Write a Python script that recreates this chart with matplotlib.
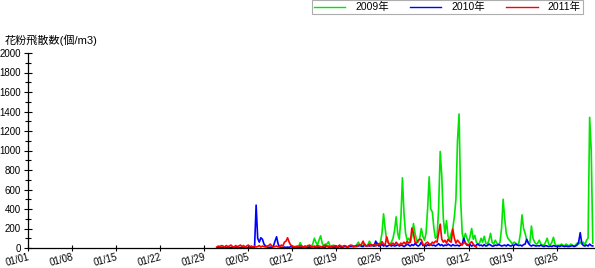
import numpy as np
import pandas as pd
import matplotlib
matplotlib.use("Agg")
import matplotlib.pyplot as plt
from matplotlib.ticker import MultipleLocator
import matplotlib.dates as mdates

plt.rcParams['font.family'] = ['Liberation Sans', 'Noto Sans CJK JP', 'DejaVu Sans']

# ---- data (pollen count, 6-hour samples, mapped onto a common year) ----
freq = "6h"

start_2009 = "2009-02-12"
pollen_2009 = [
    0, 0, 5, 10,        # 02/12
    15, 55, 20, 10,     # 02/13
    5, 10, 20, 10,      # 02/14
    15, 40, 100, 60,    # 02/15
    30, 80, 125, 50,    # 02/16
    20, 40, 40, 65,     # 02/17
    20, 10, 30, 15,     # 02/18
    5, 10, 5, 10,       # 02/19
    5, 10, 15, 5,       # 02/20
    10, 20, 10, 15,     # 02/21
    20, 35, 60, 25,     # 02/22
    15, 30, 45, 20,     # 02/23
    30, 70, 40, 25,     # 02/24
    20, 35, 50, 30,     # 02/25
    60, 150, 350, 200,  # 02/26
    80, 50, 40, 60,     # 02/27
    100, 180, 320, 150, # 02/28
    90, 300, 720, 350,  # 03/01
    150, 80, 100, 60,   # 03/02
    120, 250, 150, 80,  # 03/03
    60, 100, 200, 120,  # 03/04
    80, 150, 400, 730,  # 03/05
    400, 370, 200, 100, # 03/06
    120, 400, 990, 740, # 03/07
    300, 150, 280, 120, # 03/08
    80, 150, 200, 320,  # 03/09
    500, 1100, 1375, 500, # 03/10
    150, 80, 150, 100,  # 03/11
    60, 120, 200, 90,   # 03/12
    130, 60, 40, 50,    # 03/13
    100, 60, 120, 50,   # 03/14
    40, 80, 150, 60,    # 03/15
    40, 80, 50, 30,     # 03/16
    60, 200, 500, 300,  # 03/17
    150, 100, 80, 60,   # 03/18
    40, 60, 50, 30,     # 03/19
    50, 150, 340, 200,  # 03/20
    150, 80, 60, 50,    # 03/21
    225, 100, 60, 40,   # 03/22
    50, 80, 40, 30,     # 03/23
    30, 60, 100, 40,    # 03/24
    30, 60, 110, 40,    # 03/25
    20, 30, 25, 40,     # 03/26
    30, 20, 40, 30,     # 03/27
    20, 40, 30, 20,     # 03/28
    30, 50, 40, 60,     # 03/29
    40, 60, 30, 80,     # 03/30
    100, 1340, 1000, 50, # 03/31
]

start_2010 = "2009-01-31"
pollen_2010 = [
    0, 5, 0, 5,         # 01/31
    5, 0, 5, 0,         # 02/01
    0, 5, 5, 0,         # 02/02
    5, 0, 0, 5,         # 02/03
    0, 5, 0, 0,         # 02/04
    5, 0, 5, 10,        # 02/05
    5, 440, 100, 60,    # 02/06
    105, 90, 40, 20,    # 02/07
    10, 5, 10, 5,       # 02/08
    20, 70, 115, 40,    # 02/09
    10, 5, 5, 10,       # 02/10
    5, 10, 5, 15,       # 02/11
    10, 5, 15, 10,      # 02/12
    5, 10, 5, 10,       # 02/13
    15, 10, 5, 10,      # 02/14
    10, 15, 10, 5,      # 02/15
    10, 5, 15, 10,      # 02/16
    5, 10, 20, 10,      # 02/17
    10, 15, 5, 10,      # 02/18
    15, 10, 20, 10,     # 02/19
    10, 20, 15, 10,     # 02/20
    20, 15, 25, 15,     # 02/21
    15, 25, 20, 30,     # 02/22
    20, 15, 30, 20,     # 02/23
    25, 20, 30, 25,     # 02/24
    20, 70, 40, 20,     # 02/25
    25, 35, 20, 30,     # 02/26
    15, 25, 30, 20,     # 02/27
    30, 20, 25, 35,     # 02/28
    20, 30, 25, 15,     # 03/01
    25, 40, 30, 20,     # 03/02
    35, 25, 45, 30,     # 03/03
    20, 30, 60, 25,     # 03/04
    30, 20, 35, 25,     # 03/05
    40, 25, 30, 20,     # 03/06
    30, 45, 25, 35,     # 03/07
    20, 30, 25, 40,     # 03/08
    30, 20, 35, 25,     # 03/09
    25, 30, 20, 30,     # 03/10
    40, 100, 50, 30,    # 03/11
    25, 35, 20, 30,     # 03/12
    20, 30, 40, 25,     # 03/13
    30, 20, 35, 20,     # 03/14
    25, 40, 30, 20,     # 03/15
    20, 30, 25, 35,     # 03/16
    30, 20, 25, 30,     # 03/17
    20, 35, 25, 20,     # 03/18
    30, 25, 40, 30,     # 03/19
    25, 30, 20, 35,     # 03/20
    40, 90, 50, 30,     # 03/21
    20, 30, 25, 20,     # 03/22
    25, 20, 30, 20,     # 03/23
    15, 25, 20, 15,     # 03/24
    20, 15, 25, 20,     # 03/25
    15, 20, 15, 25,     # 03/26
    20, 15, 20, 15,     # 03/27
    15, 20, 25, 15,     # 03/28
    20, 30, 60, 157,    # 03/29
    50, 25, 20, 30,     # 03/30
    20, 40, 25, 20,     # 03/31
]

start_2011 = "2009-01-31"
pollen_2011 = [
    10, 20, 15, 25,     # 01/31
    20, 10, 25, 15,     # 02/01
    20, 30, 15, 10,     # 02/02
    25, 15, 20, 30,     # 02/03
    15, 25, 10, 20,     # 02/04
    30, 15, 20, 10,     # 02/05
    20, 10, 15, 25,     # 02/06
    10, 20, 15, 10,     # 02/07
    20, 25, 40, 20,     # 02/08
    10, 15, 20, 10,     # 02/09
    15, 30, 20, 60,     # 02/10
    70, 105, 60, 30,    # 02/11
    20, 15, 10, 20,     # 02/12
    15, 25, 20, 10,     # 02/13
    20, 15, 25, 30,     # 02/14
    15, 10, 20, 15,     # 02/15
    25, 20, 10, 15,     # 02/16
    20, 30, 15, 20,     # 02/17
    10, 20, 15, 25,     # 02/18
    20, 15, 30, 20,     # 02/19
    15, 25, 20, 10,     # 02/20
    20, 30, 25, 15,     # 02/21
    20, 15, 30, 25,     # 02/22
    40, 70, 30, 20,     # 02/23
    25, 40, 20, 30,     # 02/24
    35, 20, 30, 45,     # 02/25
    30, 65, 40, 30,     # 02/26
    115, 60, 30, 40,    # 02/27
    50, 30, 60, 40,     # 02/28
    30, 50, 40, 60,     # 03/01
    40, 70, 50, 60,     # 03/02
    205, 150, 60, 50,   # 03/03
    80, 90, 85, 40,     # 03/04
    30, 50, 60, 40,     # 03/05
    30, 60, 50, 70,     # 03/06
    60, 150, 245, 90,   # 03/07
    60, 80, 50, 90,     # 03/08
    70, 60, 195, 100,   # 03/09
    50, 80, 60, 40,     # 03/10
    30, 60, 50, 40,     # 03/11
    30, 50, 65, 40,     # 03/12
    20, 10,             # 03/13
]

series_labels = ["2009年", "2010年", "2011年"]
series_colors = ["#00e600", "#0000ff", "#ff0000"]

tick_labels = ["01/01", "01/08", "01/15", "01/22", "01/29", "02/05", "02/12",
               "02/19", "02/26", "03/05", "03/12", "03/19", "03/26"]
y_title = "花粉飛散数(個/m3)"

# ---- figure ----
fig = plt.figure(figsize=(5.95, 2.68), dpi=100)
ax = fig.add_axes([28 / 595, 20 / 268, 567 / 595, 195 / 268])

series = [(start_2009, pollen_2009), (start_2010, pollen_2010), (start_2011, pollen_2011)]
handles = []
for (st, vals), lab, col in zip(series, series_labels, series_colors):
    x = pd.date_range(st, periods=len(vals), freq=freq)
    h, = ax.plot(x, vals, color=col, lw=1.2, label=lab)
    handles.append(h)

x0 = pd.Timestamp("2009-01-01")
ax.set_xlim(x0, x0 + pd.Timedelta(days=90.1))
ax.set_ylim(0, 2000)

tick_pos = [x0 + pd.Timedelta(days=7 * i) for i in range(len(tick_labels))]
ax.set_xticks(tick_pos)
ax.set_xticklabels(tick_labels, rotation=15, ha='right', va='top',
                   rotation_mode='anchor', fontsize=7)
ax.yaxis.set_major_locator(MultipleLocator(200))
ax.yaxis.set_minor_locator(MultipleLocator(100))
ax.tick_params(axis='y', which='major', direction='inout', length=6, width=0.8, labelsize=7, pad=2)
ax.tick_params(axis='y', which='minor', direction='inout', length=4, width=0.8)
ax.tick_params(axis='x', which='major', direction='inout', length=4, width=0.8, pad=1)

for s in ['top', 'right']:
    ax.spines[s].set_visible(False)
for s in ['left', 'bottom']:
    ax.spines[s].set_linewidth(0.9)

fig.text(5 / 595, 1 - 40 / 268, y_title, fontsize=8, ha='left', va='center')

leg = fig.legend(handles=handles, labels=series_labels, ncol=3,
                 loc='upper right', bbox_to_anchor=(583 / 595, 1.0),
                 fontsize=7.5, frameon=True, fancybox=False,
                 handlelength=3.0, handletextpad=1.0, columnspacing=2.0,
                 borderpad=0.2, borderaxespad=0.0)
leg.get_frame().set_edgecolor('#999999')
leg.get_frame().set_linewidth(0.8)
for lh in leg.get_lines():
    lh.set_linewidth(1.0)

fig.savefig("out.png", dpi=100)
